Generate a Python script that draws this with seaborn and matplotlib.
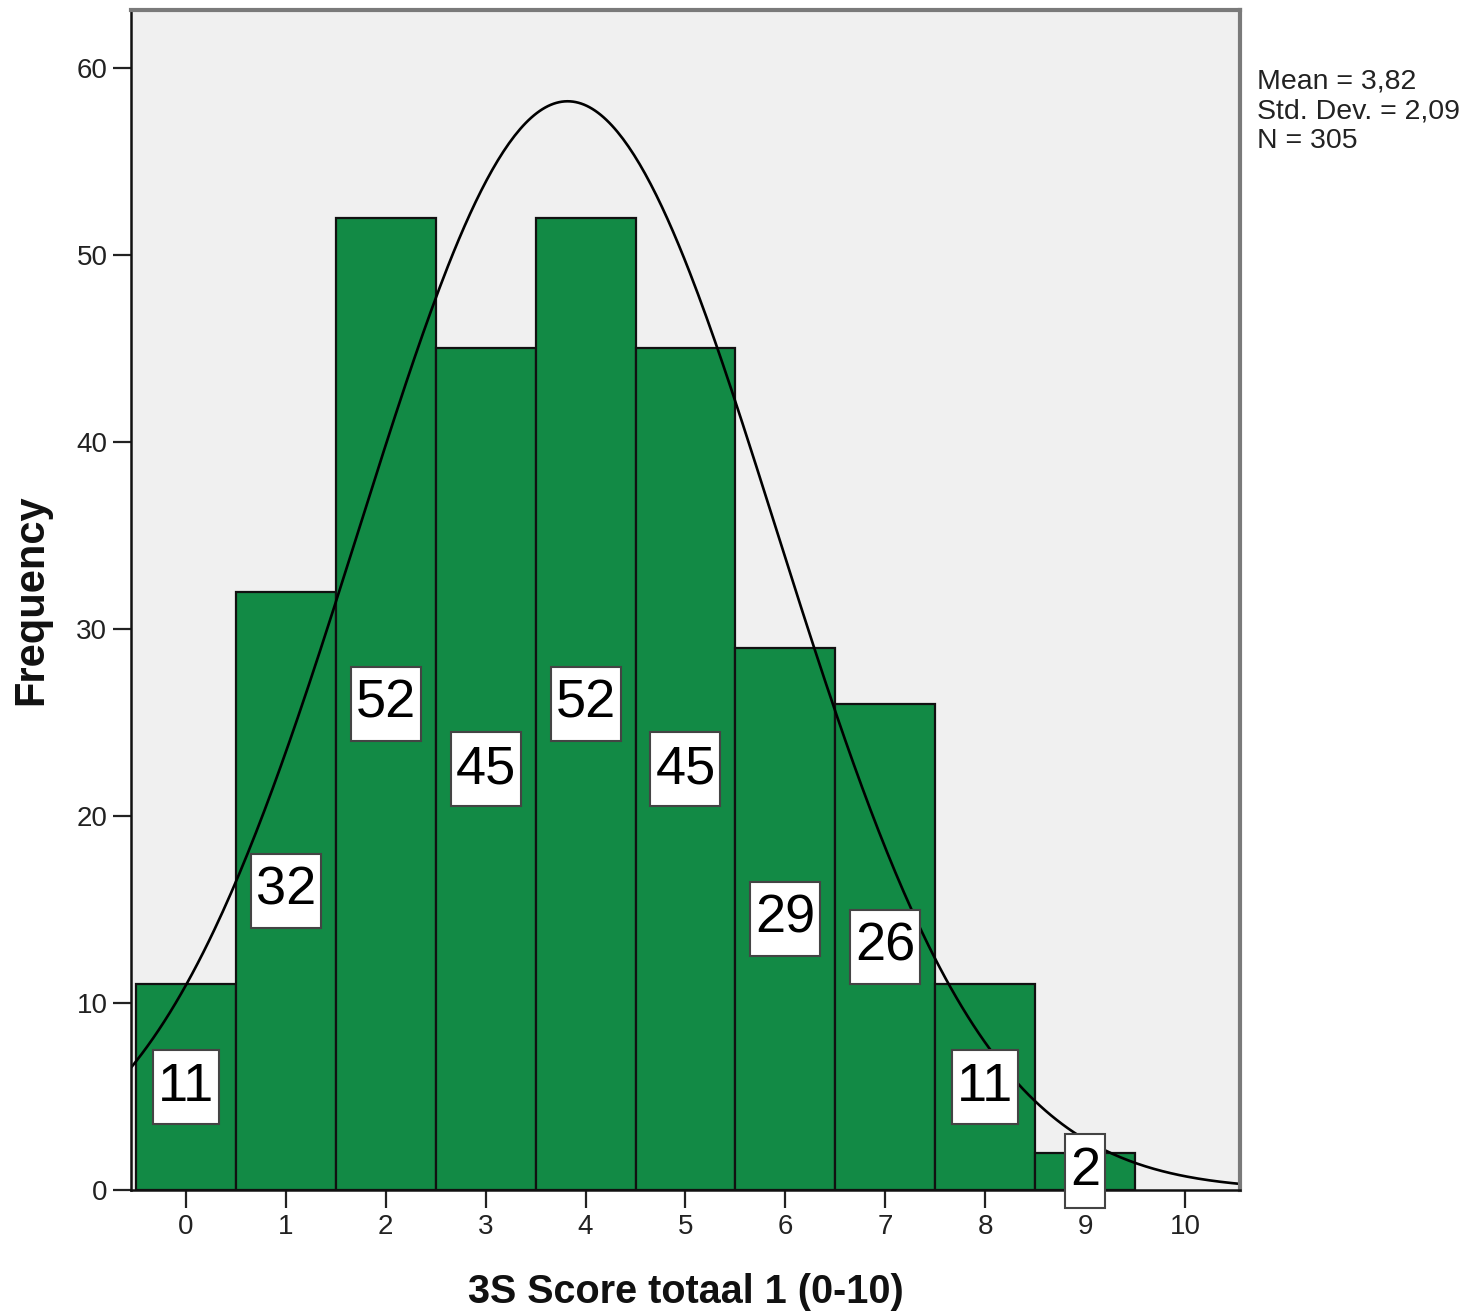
import numpy as np
import pandas as pd
import matplotlib
matplotlib.use("Agg")
import matplotlib.pyplot as plt
from matplotlib.path import Path
import seaborn as sns

# Data
scores = [0, 1, 2, 3, 4, 5, 6, 7, 8, 9]
counts = [11, 32, 52, 45, 52, 45, 29, 26, 11, 2]
mean_val = 3.82
std_val = 2.09
n_val = 305
x_ticks = [0, 1, 2, 3, 4, 5, 6, 7, 8, 9, 10]
y_ticks = [0, 10, 20, 30, 40, 50, 60]
stats_text = "Mean = 3,82\nStd. Dev. = 2,09\nN = 305"
x_label = "3S Score totaal 1 (0-10)"
y_label = "Frequency"

sns.set_theme(style="white")
plt.rcParams['font.family'] = ['Liberation Sans', 'DejaVu Sans']

fig = plt.figure(figsize=(14.72, 13.14), dpi=100)
ax = fig.add_axes([131/1472, 124/1314, (1240-131)/1472, (1190-10)/1314])
ax.set_facecolor("#f0f0f0")

df = pd.DataFrame({"score": scores, "count": counts})
sns.histplot(data=df, x="score", weights="count", discrete=True,
             color="#128a45", alpha=1.0, edgecolor="#111111",
             linewidth=1.6, ax=ax)

# normal curve
xs = np.linspace(-0.55, 10.55, 400)
ys = n_val * 1.0 * np.exp(-0.5 * ((xs - mean_val) / std_val) ** 2) / (std_val * np.sqrt(2 * np.pi))
sns.lineplot(x=xs, y=ys, color="black", linewidth=1.9, ax=ax)


def label_box(x0, y0, width, height, mutation_size):
    padx = 0.09 * mutation_size
    pady = 0.22 * mutation_size
    x0, y0 = x0 - padx, y0 - pady
    x1, y1 = x0 + width + 2 * padx, y0 + height + 2 * pady
    return Path([(x0, y0), (x1, y0), (x1, y1), (x0, y1), (x0, y0)], closed=True)


# value labels
for s, c in zip(scores, counts):
    ax.text(s, c / 2, str(c), ha="center", va="center", fontsize=39,
            color="black", clip_on=False, zorder=5,
            bbox=dict(boxstyle=label_box, facecolor="white",
                      edgecolor="#444444", linewidth=1.5))

ax.set_xlim(-0.55, 10.55)
ax.set_ylim(0, 63.1)
ax.set_xticks(x_ticks)
ax.set_yticks(y_ticks)
ax.set_xticklabels([str(t) for t in x_ticks])
ax.set_yticklabels([str(t) for t in y_ticks])
ax.tick_params(axis="both", which="both", direction="out", length=13, width=1.6,
               color="#222222", labelsize=20, labelcolor="#222222", pad=4,
               bottom=True, left=True)

ax.set_xlabel(x_label, fontsize=28.5, fontweight="bold", labelpad=24, color="#111111")
ax.set_ylabel(y_label, fontsize=30, fontweight="bold", labelpad=18, color="#111111")

for side in ["left", "bottom"]:
    ax.spines[side].set_color("#111111")
    ax.spines[side].set_linewidth(1.8)
for side in ["top", "right"]:
    ax.spines[side].set_color("#7a7a7a")
    ax.spines[side].set_linewidth(3)
    ax.spines[side].set_visible(True)

fig.text(1257/1472, 1 - 68/1314, stats_text, ha="left", va="top",
         fontsize=20.5, color="#222222", linespacing=1.2)

fig.savefig("out.png", dpi=100, facecolor="white")
